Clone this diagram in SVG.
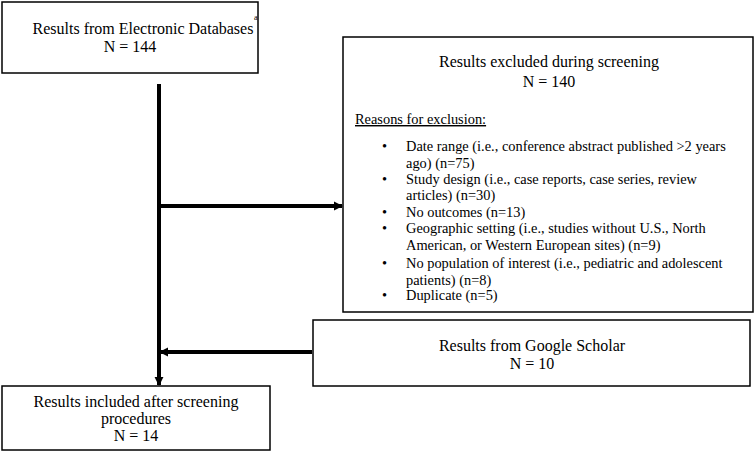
<svg xmlns="http://www.w3.org/2000/svg" width="755" height="452" viewBox="0 0 755 452">
<defs>
<style>
.box{fill:#fff;stroke:#000;stroke-width:1.5}
text{font-family:"Liberation Serif","Times New Roman",serif;font-size:16px;fill:#000}
.s{font-size:14.4px}
.c{text-anchor:middle}
.conn{stroke:#000;stroke-width:4;fill:none}
</style>
<marker id="ah" viewBox="0 0 10 10" refX="9" refY="5" markerWidth="2.3" markerHeight="2.3" orient="auto" markerUnits="strokeWidth">
<path d="M0,0 L10,5 L0,10 z" fill="#000"/>
</marker>
</defs>
<rect width="755" height="452" fill="#fff"/>
<g id="connectors">
<line class="conn" x1="159" y1="84" x2="159" y2="385" marker-end="url(#ah)"/>
<line class="conn" x1="159" y1="206" x2="342" y2="206" marker-end="url(#ah)"/>
<line class="conn" x1="312" y1="352" x2="160" y2="352" marker-end="url(#ah)"/>
</g>
<g id="n1">
<rect class="box" x="2" y="2" width="256" height="71"/>
<text class="c" x="143" y="34">Results from Electronic Databases</text>
<text x="254" y="20" style="font-size:8px">a</text>
<text class="c" x="130" y="52">N = 144</text>
</g>
<g id="n2">
<rect class="box" x="343" y="37" width="410" height="275"/>
<text class="c" x="549" y="67">Results excluded during screening</text>
<text class="c" x="549" y="87">N = 140</text>
<text class="s" x="355" y="124" text-decoration="underline">Reasons for exclusion:</text>
<g class="s">
<text class="s" x="382" y="151">•</text><text class="s" x="406" y="151">Date range (i.e., conference abstract published &gt;2 years</text>
<text class="s" x="406" y="168">ago) (n=75)</text>
<text class="s" x="382" y="184">•</text><text class="s" x="406" y="184">Study design (i.e., case reports, case series, review</text>
<text class="s" x="406" y="200">articles) (n=30)</text>
<text class="s" x="382" y="217">•</text><text class="s" x="406" y="217">No outcomes (n=13)</text>
<text class="s" x="382" y="233">•</text><text class="s" x="406" y="233">Geographic setting (i.e., studies without U.S., North</text>
<text class="s" x="406" y="250">American, or Western European sites) (n=9)</text>
<text class="s" x="382" y="268">•</text><text class="s" x="406" y="268">No population of interest (i.e., pediatric and adolescent</text>
<text class="s" x="406" y="285">patients) (n=8)</text>
<text class="s" x="382" y="300">•</text><text class="s" x="406" y="300">Duplicate (n=5)</text>
</g>
</g>
<g id="n3">
<rect class="box" x="313" y="320" width="437" height="66"/>
<text class="c" x="532" y="351">Results from Google Scholar</text>
<text class="c" x="532" y="369">N = 10</text>
</g>
<g id="n4">
<rect class="box" x="2" y="386" width="268" height="64"/>
<text class="c" x="136" y="407">Results included after screening</text>
<text class="c" x="136" y="424">procedures</text>
<text class="c" x="136" y="441">N = 14</text>
</g>
</svg>
